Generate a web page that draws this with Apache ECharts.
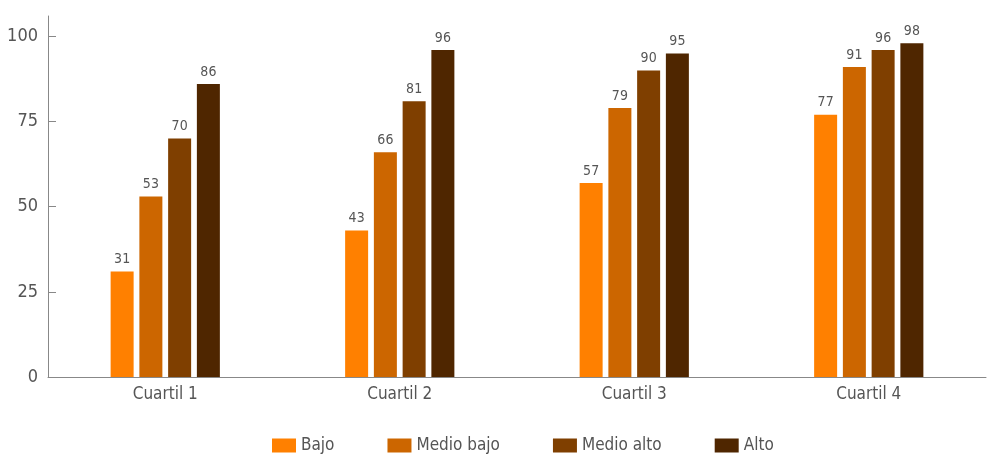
<!DOCTYPE html>
<html><head><meta charset="utf-8">
<script src="https://cdn.jsdelivr.net/npm/echarts@6/dist/echarts.min.js"></script>
<style>html,body{margin:0;padding:0;background:#fff}#c{width:988px;height:454px}</style>
</head><body><div id="c"></div>
<script>
const categories = ['Cuartil 1', 'Cuartil 2', 'Cuartil 3', 'Cuartil 4'];
const seriesNames = ['Bajo', 'Medio bajo', 'Medio alto', 'Alto'];
const bajo = [31, 43, 57, 77];
const medioBajo = [53, 66, 79, 91];
const medioAlto = [70, 81, 90, 96];
const alto = [86, 96, 95, 98];
const yTicks = [0, 25, 50, 75, 100];
const colors = ['#FF8000', '#CC6600', '#7F3F00', '#4F2600'];
const FONT = '"DejaVu Sans Condensed", "Liberation Sans Narrow", sans-serif';
const data = [bajo, medioBajo, medioAlto, alto];
const chart = echarts.init(document.getElementById('c'));
chart.setOption({
  animation: false,
  textStyle: { fontFamily: FONT },
  grid: { left: 48, right: 2, top: 16, bottom: 77 },
  legend: {
    top: 432, left: 267, itemWidth: 24, itemHeight: 14, itemGap: 53, icon: 'rect',
    textStyle: { fontFamily: FONT, fontSize: 17, color: '#555' },
    data: seriesNames
  },
  xAxis: {
    type: 'category', data: categories,
    axisLine: { lineStyle: { color: '#888', width: 1 } },
    axisTick: { show: false },
    axisLabel: { fontFamily: FONT, fontSize: 17, color: '#555', margin: 9 }
  },
  yAxis: {
    type: 'value', min: 0, max: 106,
    splitLine: { show: false },
    axisLine: { show: true, lineStyle: { color: '#888' } },
    axisTick: { show: true, inside: true, length: 8, lineStyle: { color: '#888' }, customValues: yTicks },
    axisLabel: { fontFamily: FONT, fontSize: 18, color: '#555', margin: 10, customValues: yTicks }
  },
  series: seriesNames.map((n, i) => ({
    name: n, type: 'bar', data: data[i], barWidth: 23, barGap: '25%',
    itemStyle: { color: colors[i] },
    label: { show: true, position: 'top', distance: 5, fontFamily: FONT, fontSize: 14, color: '#555' }
  }))
});
</script></body></html>
